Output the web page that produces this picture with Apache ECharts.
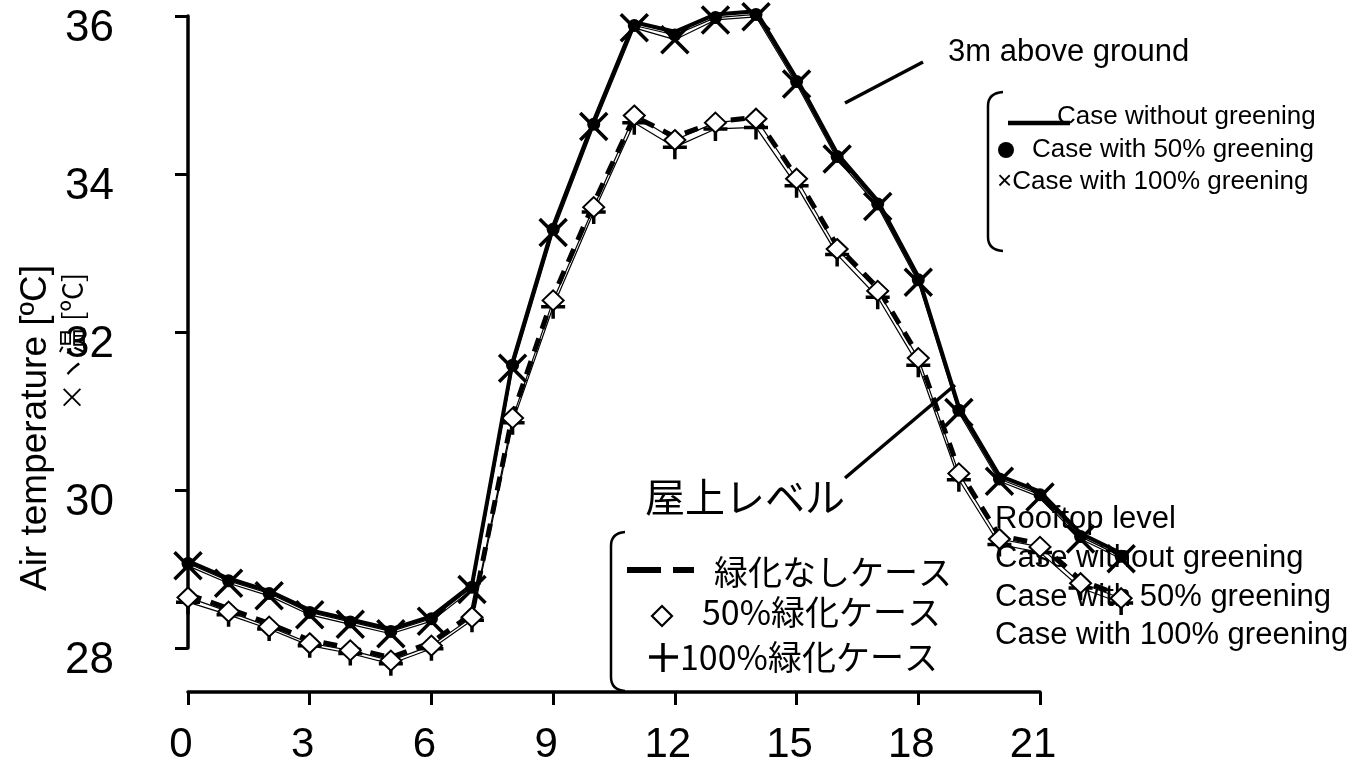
<!DOCTYPE html>
<html><head><meta charset="utf-8">
<script src="https://cdn.jsdelivr.net/npm/echarts@6/dist/echarts.min.js"></script>
<style>html,body{margin:0;padding:0;background:#fff}#c{width:1361px;height:768px}</style>
</head><body><div id="c"></div>
<script>
// ---- data ----
const hours = [0,1,2,3,4,5,6,7,8,9,10,11,12,13,14,15,16,17,18,19,20,21,22,23];
const xTickLabels = [0,3,6,9,12,15,18,21];
const yTickLabels = [28,30,32,34,36];

// 3m above ground
const noGreen3m   = [29.10,28.88,28.72,28.48,28.36,28.24,28.40,28.80,31.62,33.34,34.67,35.92,35.80,36.02,36.06,35.21,34.26,33.66,32.70,31.05,30.18,29.98,29.45,29.20];
const green50_3m  = [29.07,28.85,28.69,28.45,28.33,28.21,28.37,28.77,31.58,33.30,34.63,35.88,35.76,35.98,36.02,35.17,34.22,33.62,32.66,31.01,30.14,29.94,29.41,29.16];
const green100_3m = [29.04,28.82,28.66,28.42,28.30,28.18,28.34,28.74,31.54,33.26,34.60,35.85,35.70,35.95,35.99,35.14,34.19,33.59,32.63,30.98,30.11,29.91,29.38,29.13];

// Rooftop level
const noGreenRoof  = [28.68,28.50,28.31,28.10,28.00,27.88,28.07,28.43,30.95,32.45,33.63,34.73,34.47,34.66,34.72,33.96,33.09,32.56,31.70,30.25,29.42,29.32,28.86,28.66];
const green50Roof  = [28.64,28.46,28.27,28.06,27.97,27.84,28.03,28.39,30.91,32.40,33.58,34.74,34.43,34.65,34.70,33.94,33.05,32.52,31.67,30.21,29.38,29.28,28.82,28.63];
const green100Roof = [28.58,28.42,28.24,28.03,27.93,27.80,27.99,28.35,30.85,32.32,33.52,34.65,34.34,34.57,34.59,33.85,32.98,32.44,31.58,30.13,29.31,29.21,28.76,28.57];

// ---- chart ----
const AR = 'Arial, "Liberation Sans", sans-serif';
const JP = '"Noto Sans CJK JP", sans-serif';
const X_PATH = 'path://M0,0L10,10M10,0L0,10';
const PLUS_PATH = 'path://M5,0L5,10M0,5L10,5';
const pair = arr => hours.map((h, i) => [h, arr[i]]);

function txt(text, x, y, size, font, align, extra) {
  return Object.assign({
    type: 'text', x: x, y: y, silent: true,
    style: { text: text, fill: '#000', fontSize: size, fontFamily: font,
      textAlign: align || 'left', align: align || 'left',
      textVerticalAlign: 'middle', verticalAlign: 'middle' }
  }, extra || {});
}
function ln(x1, y1, x2, y2, w) {
  return { type: 'line', silent: true, shape: { x1, y1, x2, y2 }, style: { stroke: '#000', lineWidth: w } };
}
function bracket(xEnd, xLine, yTop, yBot) {
  return [
    { type: 'bezierCurve', silent: true, shape: { x1: xEnd, y1: yTop, x2: xLine, y2: yTop + 14, cpx1: xLine, cpy1: yTop + 1 }, style: { stroke: '#000', lineWidth: 2.5, fill: null } },
    ln(xLine, yTop + 14, xLine, yBot - 14, 2.5),
    { type: 'bezierCurve', silent: true, shape: { x1: xLine, y1: yBot - 14, x2: xEnd, y2: yBot, cpx1: xLine, cpy1: yBot - 1 }, style: { stroke: '#000', lineWidth: 2.5, fill: null } }
  ];
}

const GL = 188, GT = 16, GB = 120, GR = 321;
const pxPerHour = (1361 - GL - GR) / 21;
const GR2 = 1361 - GL - pxPerHour * 23;

const common = { lineStyle: { color: '#000', width: 1.2 }, clip: false, xAxisIndex: 1, yAxisIndex: 1 };

const chart = echarts.init(document.getElementById('c'), null, { renderer: 'canvas' });
chart.setOption({
  animation: false,
  backgroundColor: '#fff',
  grid: [
    { left: GL, right: GR, top: GT, bottom: GB, containLabel: false },
    { left: GL, right: GR2, top: GT, bottom: GB, containLabel: false }
  ],
  xAxis: [{
    gridIndex: 0, type: 'value', min: xTickLabels[0], max: xTickLabels[xTickLabels.length - 1], interval: 3,
    offset: 44,
    axisLine: { show: true, lineStyle: { color: '#000', width: 3.5 } },
    axisTick: { show: true, inside: false, length: 13, lineStyle: { color: '#000', width: 3 } },
    axisLabel: { color: '#000', fontSize: 42, fontFamily: AR, margin: 32, padding: [0, 14, 0, 0] },
    splitLine: { show: false }
  }, {
    gridIndex: 1, type: 'value', min: hours[0], max: hours[hours.length - 1], show: false
  }],
  yAxis: [{
    gridIndex: 0, type: 'value', min: yTickLabels[0], max: yTickLabels[yTickLabels.length - 1], interval: 2,
    offset: 38,
    axisLine: { show: true, lineStyle: { color: '#000', width: 3.5 } },
    axisTick: { show: true, inside: false, length: 13, lineStyle: { color: '#000', width: 3 } },
    axisLabel: { color: '#000', fontSize: 44, fontFamily: AR, margin: 36, verticalAlign: 'top', lineHeight: 25 },
    splitLine: { show: false }
  }, {
    gridIndex: 1, type: 'value', min: yTickLabels[0], max: yTickLabels[yTickLabels.length - 1], show: false
  }],
  series: [
    Object.assign({ name: 'Rooftop 100%', type: 'line', data: pair(green100Roof), symbol: PLUS_PATH, symbolSize: 24,
      itemStyle: { color: '#000', borderColor: '#000', borderWidth: 3.5 }, z: 3 }, common),
    Object.assign({ name: 'Rooftop 50%', type: 'line', data: pair(green50Roof), symbol: 'diamond', symbolSize: [21, 20],
      itemStyle: { color: '#fff', borderColor: '#000', borderWidth: 2 }, z: 3 }, common),
    Object.assign({}, common, { name: 'Rooftop none', type: 'line', data: pair(noGreenRoof), symbol: 'none',
      lineStyle: { color: '#000', width: 5, type: [14, 10] }, z: 2 }),
    Object.assign({}, common, { name: '3m none', type: 'line', data: pair(noGreen3m), symbol: 'none',
      lineStyle: { color: '#000', width: 4 }, z: 2 }),
    Object.assign({ name: '3m 50%', type: 'line', data: pair(green50_3m), symbol: 'circle', symbolSize: 13,
      itemStyle: { color: '#000', borderColor: '#000', borderWidth: 0 }, z: 4 }, common),
    Object.assign({ name: '3m 100%', type: 'line', data: pair(green100_3m), symbol: X_PATH, symbolSize: 27,
      itemStyle: { color: '#000', borderColor: '#000', borderWidth: 3.5 }, z: 4 }, common)
  ],
  graphic: { elements: [].concat(
    [
      // y-axis titles
      txt('Air temperature [ºC]', 36, 428, 37, AR, 'center', { rotation: Math.PI / 2 }),
      txt('×ヽ温 [ºC]', 72, 342, 28, JP, 'center', { rotation: Math.PI / 2 }),
      // 3m annotation
      txt('3m above ground', 948, 52, 31, AR, 'left'),
      ln(845, 103, 923, 62, 3.5),
      ln(1008, 123, 1070, 123, 4.5),
      { type: 'circle', silent: true, shape: { cx: 1006, cy: 150, r: 8 }, style: { fill: '#000' } },
      txt('Case without greening', 1057, 117, 26, AR, 'left'),
      txt('Case with 50% greening', 1032, 150, 26, AR, 'left'),
      txt('×Case with 100% greening', 997, 182, 26, AR, 'left'),
      // rooftop annotation
      txt('屋上レベル', 645, 497, 40, JP, 'left'),
      ln(845, 478, 955, 385, 3.5),
      ln(627, 570, 661, 570, 6),
      ln(673, 570, 694, 570, 6),
      txt('緑化なしケース', 714, 572, 34, JP, 'left'),
      { type: 'polygon', silent: true, shape: { points: [[662, 606], [672, 616], [662, 626], [652, 616]] }, style: { fill: '#fff', stroke: '#000', lineWidth: 2.2 } },
      txt('50%緑化ケース', 702, 612, 34, JP, 'left'),
      ln(649, 657, 678, 657, 3.5),
      ln(663, 643, 663, 672, 3.5),
      txt('100%緑化ケース', 680, 657, 34, JP, 'left'),
      txt('Rooftop level', 995, 519, 31, AR, 'left'),
      txt('Case without greening', 995, 558, 31, AR, 'left'),
      txt('Case with 50% greening', 995, 597, 31, AR, 'left'),
      txt('Case with 100% greening', 995, 635, 31, AR, 'left')
    ],
    bracket(1003, 988, 92, 251),
    bracket(625, 611, 532, 691)
  ) }
});
</script>
</body></html>
